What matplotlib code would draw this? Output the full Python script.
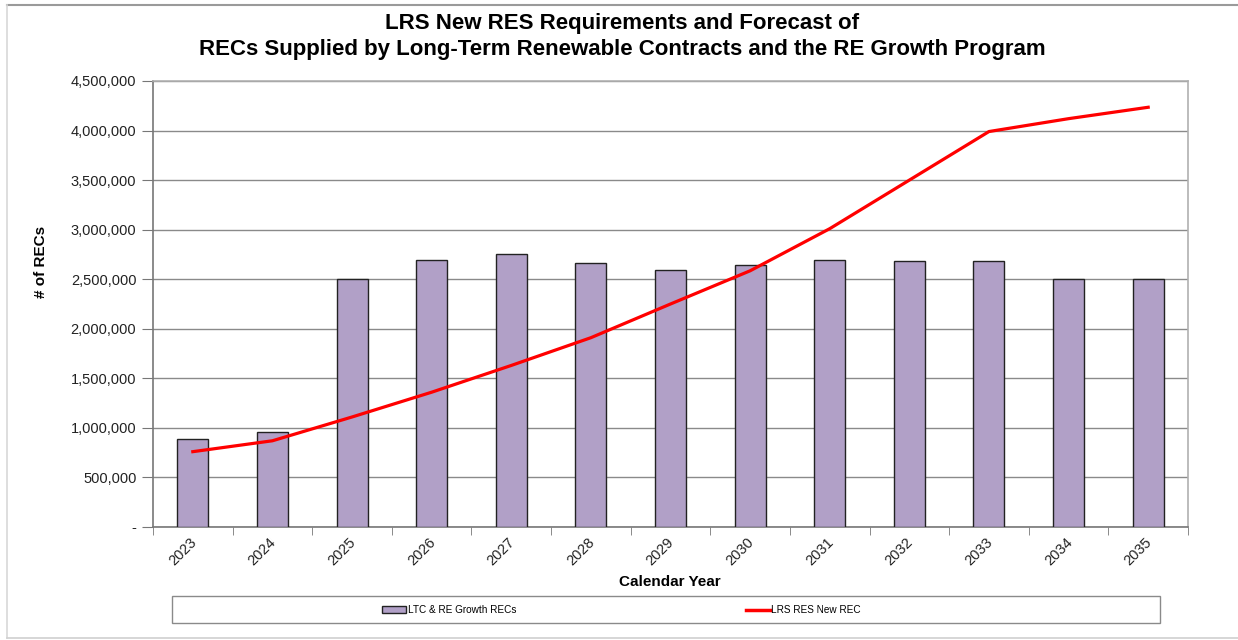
import matplotlib
matplotlib.use("Agg")
import matplotlib.pyplot as plt
from matplotlib.patches import Rectangle
from matplotlib.lines import Line2D
from matplotlib.ticker import FuncFormatter, FixedLocator
import numpy as np

years = ["2023", "2024", "2025", "2026", "2027", "2028", "2029",
         "2030", "2031", "2032", "2033", "2034", "2035"]
ltc_recs = [885000, 955000, 2500000, 2692000, 2750000, 2660000, 2597000,
            2645000, 2695000, 2688000, 2685000, 2505000, 2502000]
lrs_new_rec = [760000, 870000, 1110000, 1360000, 1630000, 1910000, 2250000,
               2585000, 3010000, 3500000, 3990000, 4120000, 4235000]
y_ticks = [0, 500000, 1000000, 1500000, 2000000, 2500000, 3000000,
           3500000, 4000000, 4500000]

plt.rcParams['font.family'] = ['Liberation Sans', 'DejaVu Sans']

W, H = 1238, 640
fig = plt.figure(figsize=(W / 100, H / 100), dpi=100)
ax = fig.add_axes([153 / W, 1 - 527 / H, (1188 - 153) / W, (527 - 81) / H])

x = np.arange(len(years))
bar_color = "#b1a0c7"
ax.bar(x, ltc_recs, width=0.39, color=bar_color, edgecolor="#222222",
       linewidth=1.0, zorder=3, label="LTC & RE Growth RECs")
ax.plot(x, lrs_new_rec, color="#ff0000", linewidth=2.3, zorder=4,
        label="LRS RES New REC")

ax.set_xlim(-0.5, len(years) - 0.5)
ax.set_ylim(0, 4500000)
ax.yaxis.set_major_locator(FixedLocator(y_ticks))
ax.yaxis.set_major_formatter(FuncFormatter(lambda v, p: f"{v:,.0f}" if v else "-"))
ax.grid(axis="y", color="#8a8a8a", linewidth=1.0, zorder=0)
ax.set_axisbelow(True)

# label anchors nudged slightly right of the bar centres (as in the original)
ax.set_xticks(x + 0.08)
ax.set_xticklabels(years, rotation=45, ha="right", va="top", fontsize=10.5)
ax.tick_params(axis="x", which="major", length=0, pad=6)
ax.set_xticks(np.arange(-0.5, len(years), 1.0), minor=True)
ax.tick_params(axis="x", which="minor", length=6, color="#777777", direction="out")
ax.tick_params(axis="y", length=8, color="#777777", labelsize=10.5, pad=4)
for lbl in ax.get_yticklabels() + ax.get_xticklabels():
    lbl.set_color("#222222")

for s in ["left", "bottom"]:
    ax.spines[s].set_color("#777777")
    ax.spines[s].set_linewidth(1.2)
for s in ["top", "right"]:
    ax.spines[s].set_color("#b0b0b0")
    ax.spines[s].set_linewidth(1.2)

fig.text(670 / W, 1 - 586 / H, "Calendar Year", ha="center", va="baseline",
         fontsize=11, fontweight="bold")
fig.text(41 / W, 1 - 262 / H, "# of RECs", ha="center", va="center",
         rotation=90, fontsize=11, fontweight="bold")

fig.text(622 / W, 1 - 29 / H, "LRS New RES Requirements and Forecast of",
         ha="center", va="baseline", fontsize=16, fontweight="bold")
fig.text(622 / W, 1 - 55 / H,
         "RECs Supplied by Long-Term Renewable Contracts and the RE Growth Program",
         ha="center", va="baseline", fontsize=16, fontweight="bold")

# outer frame
fig.add_artist(Line2D([7 / W, 1], [1 - 5 / H, 1 - 5 / H], transform=fig.transFigure,
                      color="#9a9a9a", linewidth=1.5))
fig.add_artist(Line2D([7 / W, 7 / W], [1 - 5 / H, 1 - 638 / H], transform=fig.transFigure,
                      color="#d8d8d8", linewidth=1.2))
fig.add_artist(Line2D([7 / W, 1], [1 - 638 / H, 1 - 638 / H], transform=fig.transFigure,
                      color="#d0d0d0", linewidth=1.2))

# legend frame
fig.add_artist(Rectangle((172 / W, 1 - 623 / H), (1160 - 172) / W, (623 - 596) / H,
                         transform=fig.transFigure, fill=False,
                         edgecolor="#8a8a8a", linewidth=1.0))
bar_handle = Rectangle((0, 0), 1, 1, facecolor=bar_color, edgecolor="#222222", linewidth=1.0)
line_handle = Line2D([], [], color="#ff0000", linewidth=2.5)
leg_kw = dict(frameon=False, fontsize=7.2, handlelength=2.4, handleheight=0.7,
              handletextpad=0.15, borderpad=0, borderaxespad=0)
fig.legend([bar_handle], ["LTC & RE Growth RECs"], loc="center left",
           bbox_to_anchor=(382 / W, 1 - 610 / H), **leg_kw)
fig.legend([line_handle], ["LRS RES New REC"], loc="center left",
           bbox_to_anchor=(746 / W, 1 - 610 / H), **leg_kw)

fig.savefig("out.png", dpi=100, facecolor="white")
